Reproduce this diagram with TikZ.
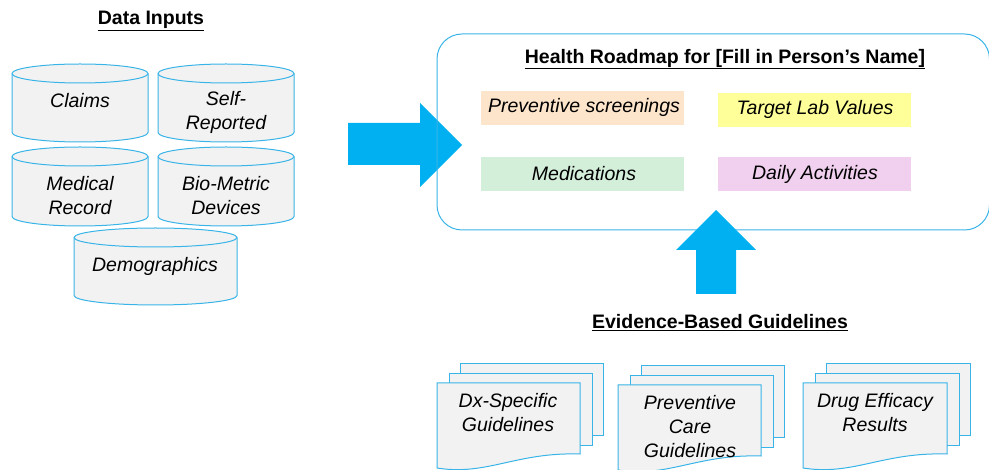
\documentclass[tikz,border=0pt]{standalone}
\usepackage{fontspec}
\setmainfont{Liberation Sans}
\definecolor{lineblue}{HTML}{38B4E8}
\definecolor{arrowblue}{HTML}{00B0F0}
\definecolor{shapegrey}{HTML}{F2F2F2}
\definecolor{peach}{HTML}{FDE5CB}
\definecolor{lemon}{HTML}{FFFF99}
\definecolor{mint}{HTML}{D3EFDA}
\definecolor{lilac}{HTML}{F0D0EE}
\tikzset{
  cylbody/.style={draw=lineblue, fill=shapegrey, line width=1pt},
  cylrim/.style={draw=lineblue, line width=1pt},
  docpage/.style={draw=lineblue, fill=shapegrey, line width=1pt},
  lbl/.style={inner sep=0pt, align=center, font=\fontsize{19.5}{24}\selectfont\itshape},
  heading/.style={inner sep=0pt, font=\fontsize{19.5}{24}\selectfont\bfseries},
  blockarrow/.style={fill=arrowblue, draw=none},
  roadbox/.style={draw=lineblue, line width=1pt, rounded corners=25pt}
}
\newcommand\dbcyl[4]{% x1, x2, top, bottom
  \pgfmathsetmacro\rxa{(#2-#1)/2}
  \path[cylbody] (#1,-#3-9.5) -- (#1,-#4+9.5)
     arc[start angle=180, end angle=360, x radius=\rxa, y radius=9.5]
     -- (#2,-#3-9.5)
     arc[start angle=0, end angle=180, x radius=\rxa, y radius=9.5] -- cycle;
  \draw[cylrim] (#1,-#3-9.5) arc[start angle=180, end angle=360, x radius=\rxa, y radius=9.5];
}
\newcommand\docstack[3]{% x-left of front page, top of front page, width
  \path[docpage] (#1+23,-#2+19) rectangle (#1+23+#3,-#2-53);
  \path[docpage] (#1+12,-#2+9) rectangle (#1+12+#3,-#2-63);
  \path[docpage] (#1,-#2) -- (#1+#3,-#2) -- (#1+#3,-#2-71)
     .. controls (#1+0.55*#3,-#2-69) and (#1+0.35*#3,-#2-93) .. (#1,-#2-85) -- cycle;
}
\begin{document}
\begin{tikzpicture}[x=1pt, y=1pt]
\useasboundingbox (0,-470) rectangle (989,0);

% ---------- Data inputs ----------
\node[heading] (datatitle) at (151,-21) {\underline{Data Inputs}};
\dbcyl{12}{148}{64}{142}
\dbcyl{158}{294}{64}{142}
\dbcyl{12}{148}{147}{226}
\dbcyl{158}{294}{147}{226}
\dbcyl{74}{237}{228}{305}
\node[lbl] (claims) at (80,-101) {Claims};
\node[lbl] (self) at (226,-112) {Self-\\Reported};
\node[lbl] (medical) at (80,-196) {Medical\\Record};
\node[lbl] (bio) at (226,-196) {Bio-Metric\\Devices};
\node[lbl] (demo) at (155,-266) {Demographics};

% ---------- Right block arrow ----------
\path[blockarrow] (348,-123) -- (420,-123) -- (420,-103) -- (462,-145)
   -- (420,-187) -- (420,-165) -- (348,-165) -- cycle;

% ---------- Health roadmap ----------
\draw[roadbox] (437,-34) rectangle (989.5,-230);
\node[heading] (roadtitle) at (725,-59) {\underline{Health Roadmap for [Fill in Person’s Name]}};
\fill[peach] (481,-91) rectangle (684,-125);
\fill[lemon] (718,-93) rectangle (911,-127);
\fill[mint] (481,-157) rectangle (684,-191);
\fill[lilac] (718,-157) rectangle (911,-191);
\node[lbl] (prev) at (584,-107) {Preventive screenings};
\node[lbl] (lab) at (815,-109) {Target Lab Values};
\node[lbl] (meds) at (584,-174) {Medications};
\node[lbl] (daily) at (815,-174) {Daily Activities};

% ---------- Up block arrow ----------
\path[blockarrow] (696,-294) -- (696,-250) -- (676,-250) -- (716,-210)
   -- (756,-250) -- (736,-250) -- (736,-294) -- cycle;

% ---------- Evidence-based guidelines ----------
\node[heading] (evtitle) at (720,-323) {\underline{Evidence-Based Guidelines}};
\docstack{437}{383}{143}
\docstack{618}{385}{143}
\docstack{803}{383}{144}
\node[lbl] (dx) at (508,-413) {Dx-Specific\\Guidelines};
\node[lbl] (pcare) at (690,-427) {Preventive\\Care\\Guidelines};
\node[lbl] (drug) at (875,-413) {Drug Efficacy\\Results};
\end{tikzpicture}
\end{document}
